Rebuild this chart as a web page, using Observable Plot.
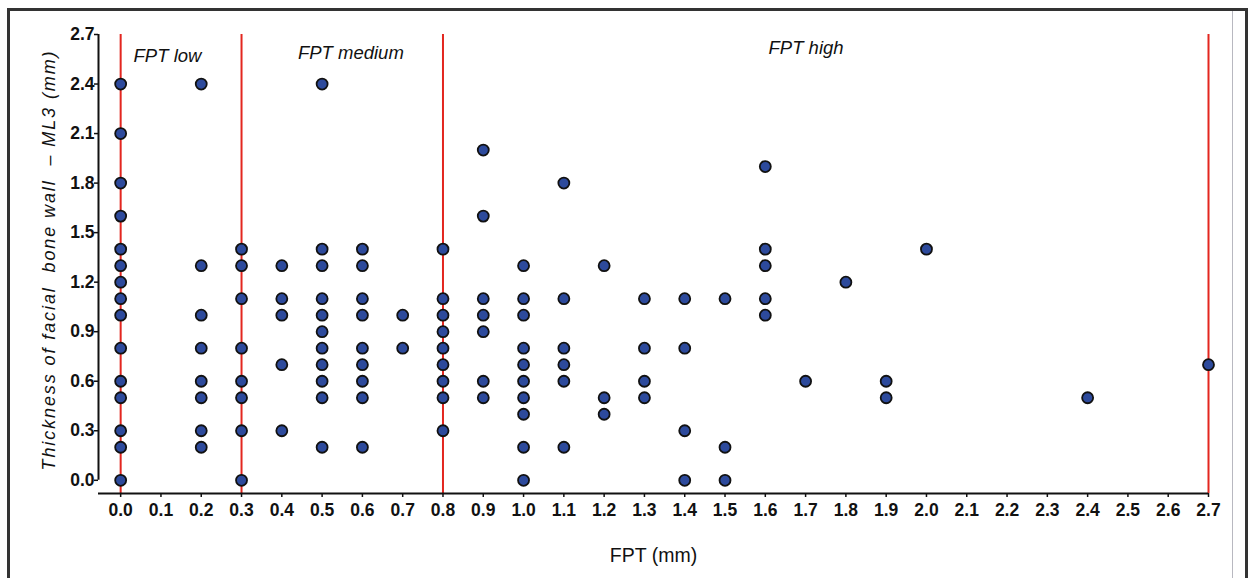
<!DOCTYPE html>
<html>
<head>
<meta charset="utf-8">
<script src="https://cdn.jsdelivr.net/npm/d3@7"></script>
<script src="https://cdn.jsdelivr.net/npm/@observablehq/plot@0.6"></script>
<style>
  html, body { margin: 0; padding: 0; background: #fff; overflow: hidden; }
  #wrap { position: relative; width: 1254px; height: 578px; font-family: "Liberation Sans", Arial, sans-serif; }
  #border { position: absolute; left: 7px; top: 8px; width: 1241px; height: 600px; border: 3px solid #333; border-bottom: none; box-sizing: border-box; pointer-events: none; }
  #inner { position: absolute; left: 1232px; top: 11px; width: 0; height: 600px; border-left: 1px solid #b8b8c0; pointer-events: none; }
  svg { position: absolute; left: 0; top: 0; }
</style>
</head>
<body>
<div id="wrap"><div id="border"></div><div id="inner"></div></div>
<script>
// FPT columns (mm) and the facial bone wall thickness values observed at each
const fpt = [0.0, 0.2, 0.3, 0.4, 0.5, 0.6, 0.7, 0.8, 0.9, 1.0, 1.1, 1.2, 1.3, 1.4, 1.5, 1.6, 1.7, 1.8, 1.9, 2.0, 2.4, 2.7];
const thickness = [
  [2.4, 2.1, 1.8, 1.6, 1.4, 1.3, 1.2, 1.1, 1.0, 0.8, 0.6, 0.5, 0.3, 0.2, 0.0],
  [2.4, 1.3, 1.0, 0.8, 0.6, 0.5, 0.3, 0.2],
  [1.4, 1.3, 1.1, 0.8, 0.6, 0.5, 0.3, 0.0],
  [1.3, 1.1, 1.0, 0.7, 0.3],
  [2.4, 1.4, 1.3, 1.1, 1.0, 0.9, 0.8, 0.7, 0.6, 0.5, 0.2],
  [1.4, 1.3, 1.1, 1.0, 0.8, 0.7, 0.6, 0.5, 0.2],
  [1.0, 0.8],
  [1.4, 1.1, 1.0, 0.9, 0.8, 0.7, 0.6, 0.5, 0.3],
  [2.0, 1.6, 1.1, 1.0, 0.9, 0.6, 0.5],
  [1.3, 1.1, 1.0, 0.8, 0.7, 0.6, 0.5, 0.4, 0.2, 0.0],
  [1.8, 1.1, 0.8, 0.7, 0.6, 0.2],
  [1.3, 0.5, 0.4],
  [1.1, 0.8, 0.6, 0.5],
  [1.1, 0.8, 0.3, 0.0],
  [1.1, 0.2, 0.0],
  [1.9, 1.4, 1.3, 1.1, 1.0],
  [0.6],
  [1.2],
  [0.6, 0.5],
  [1.4],
  [0.5],
  [0.7]
];
const cutoffs = [0.0, 0.3, 0.8, 2.7];
const groupNames = ["FPT low", "FPT medium", "FPT high"];
const groupLabelX = [0.032, 0.44, 1.608];
const groupLabelY = [2.57, 2.59, 2.62];
const xTicks = [0.0,0.1,0.2,0.3,0.4,0.5,0.6,0.7,0.8,0.9,1.0,1.1,1.2,1.3,1.4,1.5,1.6,1.7,1.8,1.9,2.0,2.1,2.2,2.3,2.4,2.5,2.6,2.7];
const yTicks = [0.0, 0.3, 0.6, 0.9, 1.2, 1.5, 1.8, 2.1, 2.4, 2.7];
const xTitle = "FPT (mm)";
const yTitle = "Thickness of facial  bone wall  \u2013 ML3 (mm)";
const xDomain = [-0.055, 2.7];
const yDomain = [-0.08, 2.7];

const points = fpt.flatMap((x, i) => thickness[i].map(y => ({x, y})));
const groups = groupNames.map((t, i) => ({text: t, x: groupLabelX[i], y: groupLabelY[i]}));
const fmt = d3.format(".1f");
const font = "Liberation Sans, Arial, sans-serif";

const chart = Plot.plot({
  width: 1254,
  height: 578,
  marginLeft: 98,
  marginRight: 46,
  marginTop: 34,
  marginBottom: 85,
  x: {domain: xDomain},
  y: {domain: yDomain},
  style: {fontFamily: font, background: "transparent", color: "#111"},
  marks: [
    Plot.ruleX(cutoffs, {y1: yDomain[0], y2: yTicks[yTicks.length - 1], stroke: "#e3261f", strokeWidth: 2}),
    Plot.axisX({ticks: xTicks, tickFormat: fmt, tickSize: 4, tickPadding: 6, fontSize: 17.5, fontWeight: "bold", strokeWidth: 1.5, label: null}),
    Plot.axisY({ticks: yTicks, tickFormat: fmt, tickSize: 4, tickPadding: 0, fontSize: 17.5, fontWeight: "bold", strokeWidth: 1.5, label: null}),
    Plot.ruleY([yDomain[0]], {x1: xDomain[0], x2: xDomain[1], stroke: "#111", strokeWidth: 2}),
    Plot.ruleX([xDomain[0]], {y1: yTicks[0], y2: yTicks[yTicks.length - 1], stroke: "#111", strokeWidth: 2}),
    Plot.dot(points, {x: "x", y: "y", r: 5.5, fill: "#2d4a9c", stroke: "#111", strokeWidth: 1.8}),
    Plot.text(groups, {x: "x", y: "y", text: "text", textAnchor: "start", fontStyle: "italic", fontSize: 18.5, fill: "#111"}),
    Plot.text([xTitle], {frameAnchor: "bottom", dy: 68, fontSize: 19.5, fill: "#111"}),
    Plot.text([yTitle], {frameAnchor: "left", textAnchor: "middle", rotate: -90, dx: -49, dy: -4, fontSize: 18, fontStyle: "italic", fill: "#111"})
  ]
});
chart.querySelectorAll("text").forEach(t => {
  if (t.textContent === yTitle) t.style.letterSpacing = "1.9px";
});
document.getElementById("wrap").prepend(chart);
</script>
</body>
</html>
